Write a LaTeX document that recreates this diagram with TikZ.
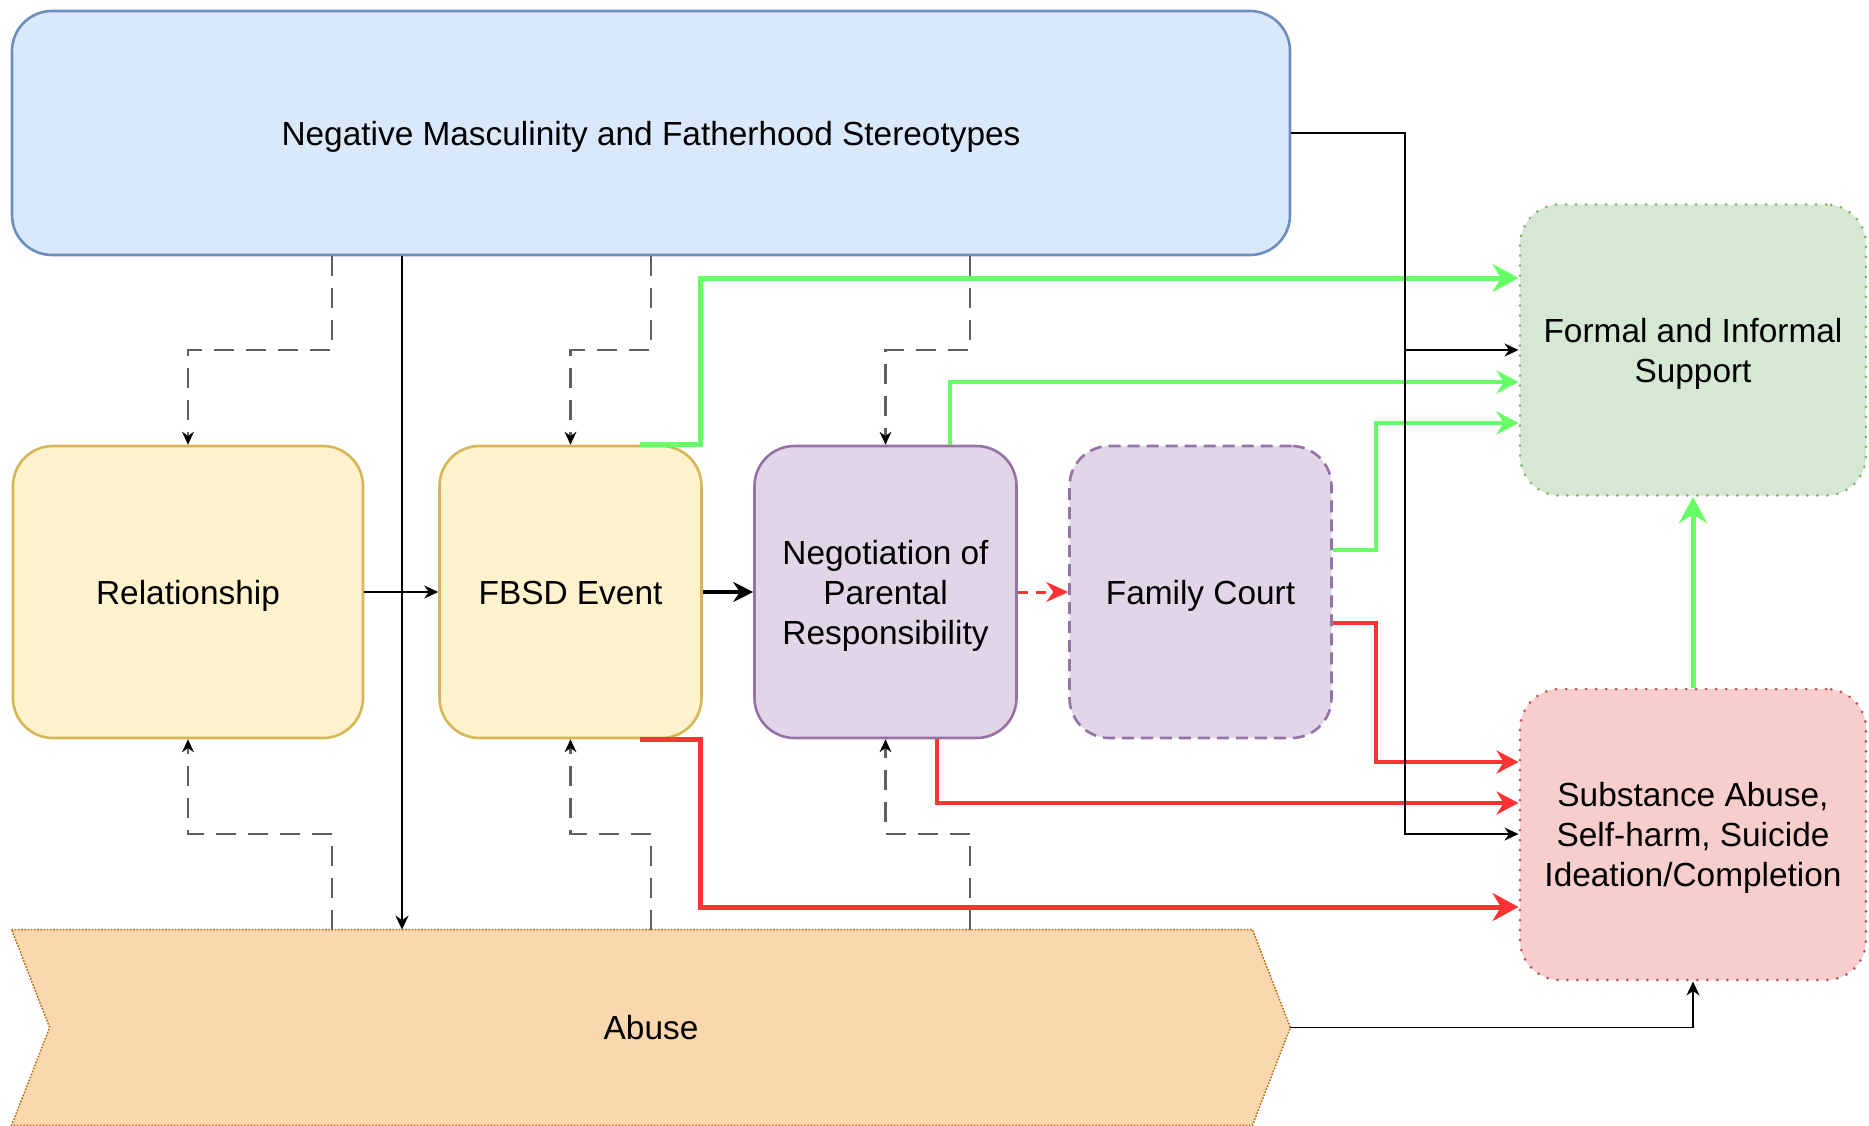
\documentclass[tikz,border=0pt]{standalone}
\usepackage{fontspec}
\setmainfont{Liberation Sans}
\usetikzlibrary{arrows.meta,calc,backgrounds}
\definecolor{topfill}{HTML}{DAE8FC}\definecolor{topdraw}{HTML}{6C8EBF}
\definecolor{yfill}{HTML}{FFF2CC}\definecolor{ydraw}{HTML}{D6B656}
\definecolor{pfill}{HTML}{E1D5E7}\definecolor{pdraw}{HTML}{9673A6}
\definecolor{gfill}{HTML}{D5E8D4}\definecolor{gdraw}{HTML}{82B366}
\definecolor{rfill}{HTML}{F8CECC}\definecolor{rdraw}{HTML}{B85450}
\definecolor{ofill}{HTML}{FAD7AC}\definecolor{odraw}{HTML}{B46504}
\definecolor{lgreen}{HTML}{66FF66}\definecolor{lred}{HTML}{FF3333}
\definecolor{dgray}{HTML}{606060}
\newcommand\ctext[1]{\raisebox{-2.2pt}[\height][\depth]{\begin{tabular}{@{}c@{}}#1\end{tabular}}}
\begin{document}
\begin{tikzpicture}[x=0.5pt,y=-0.5pt,
  txt/.style={font=\fontsize{16.7}{20}\selectfont,text=black},
  box/.style={txt,rectangle,rounded corners=20pt,inner sep=0pt,line width=1.3pt,
    minimum width=131pt,minimum height=146pt},
  ybox/.style={box,fill=yfill,draw=ydraw},
  pbox/.style={box,fill=pfill,draw=pdraw},
  dotbox/.style={box,line width=1.5pt,line cap=round,dash pattern=on 0pt off 5pt,
    minimum width=173pt,minimum height=145.5pt},
  blk/.style={draw=black,line width=0.9pt,-{Stealth[length=7pt,width=6.5pt]}},
  blkT/.style={draw=black,line width=1.6pt,-{Stealth[length=10pt,width=10pt]}},
  dsh/.style={draw=dgray,line width=1.2pt,dash pattern=on 10pt off 6pt,
    -{Stealth[black,length=6.5pt,width=6pt,line width=0pt]}},
  grnT/.style={draw=lgreen,line width=2.5pt,-{Stealth[length=13pt,width=14pt]}},
  grnM/.style={draw=lgreen,line width=1.8pt,-{Stealth[length=11pt,width=11.5pt]}},
  redT/.style={draw=lred,line width=2.5pt,-{Stealth[length=13pt,width=14pt]}},
  redM/.style={draw=lred,line width=1.8pt,-{Stealth[length=11pt,width=11.5pt]}},
  redD/.style={draw=lred,line width=1.5pt,dash pattern=on 5pt off 4pt,
    -{Stealth[length=11pt,width=10pt]}}
]
\useasboundingbox (0,0) rectangle (1869,1125);

% ---------- nodes ----------
\node[box,fill=topfill,draw=topdraw,minimum width=639pt,minimum height=122pt]
  (top) at (651,133) {\ctext{Negative Masculinity and Fatherhood Stereotypes}};
\node[ybox,minimum width=175pt] (rel) at (188,592) {\ctext{Relationship}};
\node[ybox] (fbsd) at (570.5,592) {\ctext{FBSD Event}};
\node[pbox] (neg) at (885.5,592) {\ctext{Negotiation of\\Parental\\Responsibility}};
\node[pbox,dash pattern=on 6pt off 3.5pt] (fc) at (1200.5,592) {\ctext{Family Court}};
\node[dotbox,fill=gfill,draw=gdraw] (formal) at (1693,350) {\ctext{Formal and Informal\\Support}};
\node[dotbox,fill=rfill,draw=rdraw] (subst) at (1693,834.5) {\ctext{Substance Abuse,\\Self-harm, Suicide\\Ideation/Completion}};
\node[txt,rectangle,inner sep=0pt,minimum width=639pt,minimum height=97.5pt]
  (abuse) at (651,1027.5) {\ctext{Abuse}};

\begin{scope}[on background layer]
  \fill[white] (0,0) rectangle (1869,1125);
  \draw[fill=ofill,draw=odraw,line width=0.7pt,dash pattern=on 0.8pt off 0.8pt]
    (abuse.north west) -- ($(abuse.north east)+(-38,0)$) -- (abuse.east)
    -- ($(abuse.south east)+(-38,0)$) -- (abuse.south west)
    -- ($(abuse.west)+(38,0)$) -- cycle;
\end{scope}

% ---------- helper coordinates ----------
\coordinate (xa) at (332,0);
\coordinate (xb) at (651,0);
\coordinate (xc) at (970,0);
\coordinate (xv) at (402,0);
\coordinate (xr) at (1405,0);
\coordinate (xf) at (1376,0);
\coordinate (xg1) at (640,0);
\coordinate (xg2) at (700,0);
\coordinate (xn1) at (950,0);
\coordinate (xn2) at (937,0);
\coordinate (yu) at (0,350);
\coordinate (yl) at (0,834);
\coordinate (yg1) at (0,278);
\coordinate (yg2) at (0,382);
\coordinate (yg3) at (0,423);
\coordinate (yf1) at (0,550);
\coordinate (yf2) at (0,623);
\coordinate (yr1) at (0,762);
\coordinate (yr2) at (0,803);
\coordinate (yr3) at (0,907);

% ---------- dashed influence lines ----------
\draw[dsh] (top.south -| xa) -- (xa |- yu) -| (rel.north);
\draw[dsh] (top.south -| xb) -- (xb |- yu) -| (fbsd.north);
\draw[dsh] (top.south -| xc) -- (xc |- yu) -| (neg.north);
\draw[dsh] (abuse.north -| xa) -- (xa |- yl) -| (rel.south);
\draw[dsh] (abuse.north -| xb) -- (xb |- yl) -| (fbsd.south);
\draw[dsh] (abuse.north -| xc) -- (xc |- yl) -| (neg.south);

% ---------- green ----------
\draw[grnT] (fbsd.north -| xg1) -- (xg2 |- fbsd.north) -- (xg2 |- yg1) -- (formal.west |- yg1);
\draw[grnM] (neg.north -| xn1) -- (xn1 |- yg2) -- (formal.west |- yg2);
\draw[grnM] (fc.east |- yf1) -- (xf |- yf1) -- (xf |- yg3) -- (formal.west |- yg3);
\draw[grnT] (subst.north) -- (formal.south);

% ---------- red ----------
\draw[redT] (fbsd.south -| xg1) -- (xg2 |- fbsd.south) -- (xg2 |- yr3) -- (subst.west |- yr3);
\draw[redM] (neg.south -| xn2) -- (xn2 |- yr2) -- (subst.west |- yr2);
\draw[redM] (fc.east |- yf2) -- (xf |- yf2) -- (xf |- yr1) -- (subst.west |- yr1);
\draw[redD] (neg.east) -- (fc.west);

% ---------- black ----------
\draw[blk] (top.south -| xv) -- (abuse.north -| xv);
\draw[blk] (rel.east) -- (fbsd.west);
\draw[blkT] (fbsd.east) -- (neg.west);
\draw[blk] (top.east) -- (xr |- top.east) -- (xr |- yu) -- (formal.west |- yu);
\draw[blk] (top.east) -- (xr |- top.east) -- (xr |- yl) -- (subst.west |- yl);
\draw[blk] (abuse.east) -- (subst.south |- abuse.east) -- (subst.south);
\end{tikzpicture}
\end{document}
